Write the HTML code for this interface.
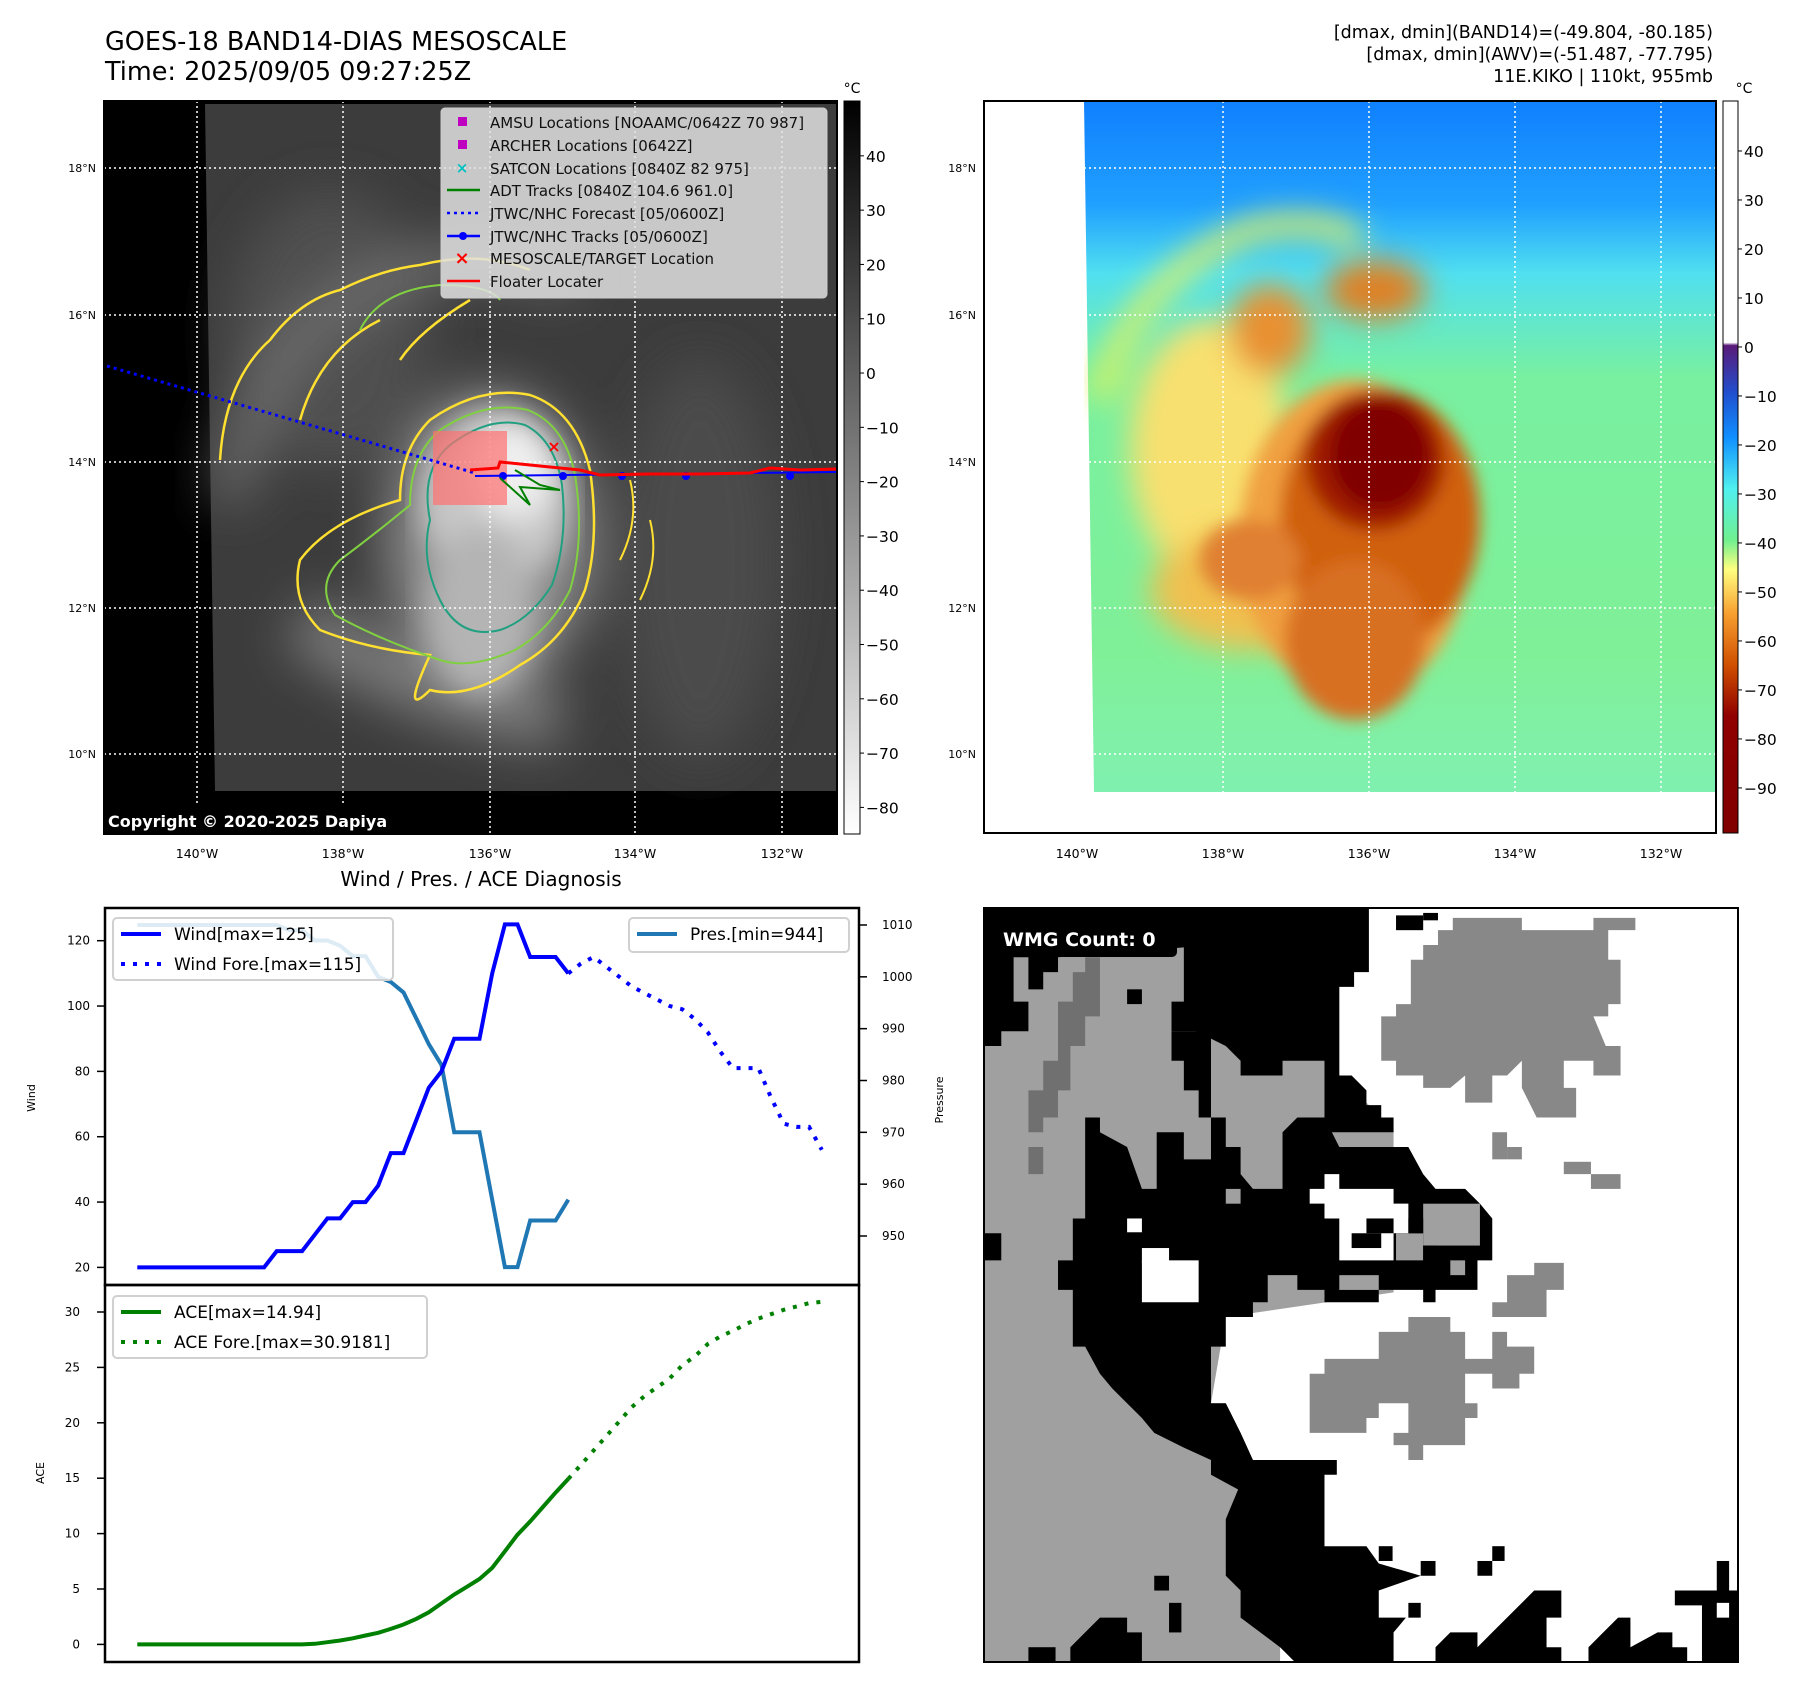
<!DOCTYPE html>
<html><head><meta charset="utf-8">
<style>
html,body{margin:0;padding:0;background:#fff;}
body{width:1797px;height:1690px;overflow:hidden;font-family:"DejaVu Sans","Liberation Sans",sans-serif;}
svg text{font-family:"DejaVu Sans","Liberation Sans",sans-serif;}
</style></head>
<body>
<svg id="root" width="1797" height="1690" viewBox="0 0 1797 1690" xmlns="http://www.w3.org/2000/svg">
<defs>
<linearGradient id="gcb" x1="0" y1="0" x2="0" y2="1"><stop offset="0" stop-color="#000"/><stop offset="1" stop-color="#fff"/></linearGradient>
<linearGradient id="ccb" x1="0" y1="0" x2="0" y2="1">
<stop offset="0" stop-color="#ffffff"/><stop offset="0.33" stop-color="#ffffff"/><stop offset="0.334" stop-color="#5a1a78"/>
<stop offset="0.40" stop-color="#2050d0"/><stop offset="0.46" stop-color="#1090ff"/><stop offset="0.53" stop-color="#50f0f0"/>
<stop offset="0.60" stop-color="#70f090"/><stop offset="0.64" stop-color="#ffff80"/><stop offset="0.70" stop-color="#f8a030"/>
<stop offset="0.77" stop-color="#d05000"/><stop offset="0.84" stop-color="#900000"/><stop offset="1" stop-color="#800000"/></linearGradient>
<linearGradient id="bgc" x1="0" y1="0" x2="0" y2="1">
<stop offset="0" stop-color="#1080ff"/><stop offset="0.15" stop-color="#20a0ff"/><stop offset="0.25" stop-color="#50e0f0"/>
<stop offset="0.4" stop-color="#78f0a0"/><stop offset="0.8" stop-color="#80f098"/><stop offset="1" stop-color="#80f0b0"/></linearGradient>
<filter id="bl8"><feGaussianBlur stdDeviation="8"/></filter>
<filter id="bl15"><feGaussianBlur stdDeviation="15"/></filter>
<filter id="bl25"><feGaussianBlur stdDeviation="25"/></filter>
<clipPath id="clipL"><rect x="104" y="101" width="733" height="733"/></clipPath>
<clipPath id="clipR"><rect x="1084" y="101" width="632" height="691"/></clipPath>
</defs>

<!-- ========== Titles ========== -->
<text x="105" y="50" font-size="25.5">GOES-18 BAND14-DIAS MESOSCALE</text>
<text x="105" y="80" font-size="25.5">Time: 2025/09/05 09:27:25Z</text>
<g font-size="17.5" text-anchor="end">
<text x="1713" y="38">[dmax, dmin](BAND14)=(-49.804, -80.185)</text>
<text x="1713" y="60">[dmax, dmin](AWV)=(-51.487, -77.795)</text>
<text x="1713" y="82">11E.KIKO | 110kt, 955mb</text>
</g>

<!-- ========== Left IR map ========== -->
<g>
<rect x="104" y="101" width="733" height="733" fill="#000"/>
<g clip-path="url(#clipL)">
<polygon points="205,104 836,104 836,791 215,791" fill="#3c3c3c"/>
<g filter="url(#bl25)">
<ellipse cx="330" cy="330" rx="100" ry="140" fill="#505050"/>
<ellipse cx="700" cy="560" rx="80" ry="200" fill="#4c4c4c"/>
<path d="M230,500 Q260,300 450,260 Q560,250 560,290" stroke="#707070" stroke-width="35" fill="none"/>
<path d="M300,620 Q420,700 560,720" stroke="#7a7a7a" stroke-width="60" fill="none"/>
<ellipse cx="490" cy="540" rx="105" ry="150" fill="#8a8a8a"/>
</g>
<g filter="url(#bl15)">
<ellipse cx="495" cy="500" rx="75" ry="90" fill="#c8c8c8"/>
<ellipse cx="480" cy="610" rx="55" ry="85" fill="#b4b4b4"/>
<ellipse cx="515" cy="470" rx="40" ry="50" fill="#eeeeee"/>
</g>
<path d="M430,420 Q480,385 530,395 Q575,410 590,470 Q600,540 585,590 Q565,640 520,665 Q470,700 430,690 Q400,720 430,655 Q370,650 320,630 Q290,600 300,560 Q330,520 400,500 Q400,450 430,420Z" fill="none" stroke="#ffe030" stroke-width="2.5"/>
<path d="M440,430 Q485,400 528,410 Q565,425 575,475 Q585,540 570,590 Q550,630 515,650 Q470,670 440,660 Q380,640 335,615 Q315,585 340,560 Q380,530 410,505 Q410,455 440,430Z" fill="none" stroke="#80d040" stroke-width="2"/>
<path d="M450,445 Q490,415 525,425 Q555,440 562,485 Q568,540 552,585 Q530,620 500,630 Q460,640 440,600 Q420,560 430,520 Q420,470 450,445Z" fill="none" stroke="#20a080" stroke-width="2"/>
<path d="M220,460 Q225,380 270,340 Q300,300 340,290 Q380,270 420,265 Q480,250 530,270 M300,420 Q320,350 380,320 M470,300 Q420,330 400,360" fill="none" stroke="#ffe030" stroke-width="2.5"/>
<path d="M360,330 Q380,290 440,285 Q490,285 500,300" fill="none" stroke="#80d040" stroke-width="2"/>
<path d="M620,560 Q640,520 630,480 M650,520 Q660,560 640,600" fill="none" stroke="#ffe030" stroke-width="2"/>
</g>
<g stroke="#fff" stroke-width="1.5" stroke-dasharray="2,3">
<line x1="104" y1="168" x2="837" y2="168"/><line x1="104" y1="315" x2="837" y2="315"/><line x1="104" y1="462" x2="837" y2="462"/><line x1="104" y1="608" x2="837" y2="608"/><line x1="104" y1="754" x2="837" y2="754"/>
<line x1="197" y1="101" x2="197" y2="834"/><line x1="343" y1="101" x2="343" y2="834"/><line x1="490" y1="101" x2="490" y2="834"/><line x1="635" y1="101" x2="635" y2="834"/><line x1="782" y1="101" x2="782" y2="834"/>
</g>
<rect x="433" y="431" width="74" height="74" fill="#ff7070" opacity="0.7"/>
<line x1="107" y1="366" x2="475" y2="473" stroke="#0000ff" stroke-width="3" stroke-dasharray="3,4"/>
<polyline points="475,476 836,472" stroke="#0000ff" stroke-width="2" fill="none"/>
<g fill="#0000ff"><circle cx="503" cy="476" r="4"/><circle cx="563" cy="476" r="4"/><circle cx="622" cy="476" r="4"/><circle cx="686" cy="476" r="4"/><circle cx="790" cy="476" r="4"/></g>
<polyline points="470,470 498,468 500,462 540,466 580,470 600,475 650,474 700,474 750,473 770,468 800,470 836,469" stroke="#ff0000" stroke-width="3" fill="none"/>
<polyline points="500,478 530,505 520,487 560,490 540,485 515,470" stroke="#008000" stroke-width="2" fill="none"/>
<text x="554" y="452" font-size="16" fill="#ff0000" text-anchor="middle" font-weight="bold">×</text>
<rect x="104" y="806" width="318" height="28" fill="#000"/>
<text x="108" y="827" font-size="16" font-weight="bold" fill="#fff">Copyright © 2020-2025 Dapiya</text>
<rect x="104" y="101" width="733" height="733" fill="none" stroke="#000" stroke-width="2"/>
<g>
<rect x="441" y="108" width="386" height="190" rx="4" fill="#e0e0e0" fill-opacity="0.85" stroke="#ccc"/>
<g font-size="15" fill="#111">
<rect x="458" y="117" width="9" height="9" fill="#c000c0"/><text x="490" y="128">AMSU Locations [NOAAMC/0642Z 70 987]</text>
<rect x="458" y="140" width="9" height="9" fill="#c000c0"/><text x="490" y="151">ARCHER Locations [0642Z]</text>
<text x="462" y="173" fill="#00c0c0" text-anchor="middle" font-weight="bold">×</text><text x="490" y="174">SATCON Locations [0840Z 82 975]</text>
<line x1="447" y1="190" x2="480" y2="190" stroke="#008000" stroke-width="2.5"/><text x="490" y="196">ADT Tracks [0840Z 104.6 961.0]</text>
<line x1="447" y1="213" x2="480" y2="213" stroke="#0000ff" stroke-width="2.5" stroke-dasharray="3,4"/><text x="490" y="219">JTWC/NHC Forecast [05/0600Z]</text>
<line x1="447" y1="236" x2="480" y2="236" stroke="#0000ff" stroke-width="2.5"/><circle cx="463" cy="236" r="4" fill="#0000ff"/><text x="490" y="242">JTWC/NHC Tracks [05/0600Z]</text>
<text x="462" y="264" fill="#ff0000" text-anchor="middle" font-weight="bold" font-size="18">×</text><text x="490" y="264">MESOSCALE/TARGET Location</text>
<line x1="447" y1="281" x2="480" y2="281" stroke="#ff0000" stroke-width="2.5"/><text x="490" y="287">Floater Locater</text>
</g></g>
</g>
<g font-size="11" text-anchor="end">
<text x="96" y="172">18°N</text><text x="96" y="319">16°N</text><text x="96" y="466">14°N</text><text x="96" y="612">12°N</text><text x="96" y="758">10°N</text>
</g>
<g font-size="12.5" text-anchor="middle">
<text x="197" y="858">140°W</text><text x="343" y="858">138°W</text><text x="490" y="858">136°W</text><text x="635" y="858">134°W</text><text x="782" y="858">132°W</text>
</g>
<g>
<rect x="844" y="101" width="16" height="733" fill="url(#gcb)" stroke="#000" stroke-width="1"/>
<text x="852" y="93" font-size="14" text-anchor="middle">°C</text>
<g font-size="15.5" id="gcbl"></g>
</g>

<!-- ========== Right color map ========== -->
<g>
<rect x="984" y="101" width="732" height="732" fill="#fff"/>
<g clip-path="url(#clipR)">
<polygon points="1084,101 1716,101 1716,792 1094,792" fill="url(#bgc)"/>
<g filter="url(#bl15)">
<path d="M1100,400 Q1130,280 1250,230 Q1320,215 1360,240" stroke="#e0f060" stroke-width="22" fill="none"/>
<ellipse cx="1210" cy="450" rx="80" ry="130" fill="#f8e070"/>
<ellipse cx="1250" cy="590" rx="100" ry="60" fill="#f0c050"/>
<ellipse cx="1375" cy="290" rx="50" ry="30" fill="#e08020"/>
<ellipse cx="1270" cy="330" rx="40" ry="45" fill="#e89030"/>
</g>
<g filter="url(#bl8)">
<ellipse cx="1355" cy="540" rx="115" ry="160" fill="#f0a040"/>
<ellipse cx="1380" cy="520" rx="100" ry="130" fill="#d06010"/>
<ellipse cx="1355" cy="640" rx="70" ry="80" fill="#d87020"/>
<ellipse cx="1250" cy="560" rx="50" ry="40" fill="#e08030"/>
<ellipse cx="1375" cy="460" rx="70" ry="70" fill="#a01a00"/>
<ellipse cx="1380" cy="455" rx="50" ry="55" fill="#800000"/>
</g>
</g>
<g stroke="#fff" stroke-width="1.5" stroke-dasharray="2,3">
<line x1="1084" y1="168" x2="1716" y2="168"/><line x1="1084" y1="315" x2="1716" y2="315"/><line x1="1084" y1="462" x2="1716" y2="462"/><line x1="1084" y1="608" x2="1716" y2="608"/><line x1="1084" y1="754" x2="1716" y2="754"/>
<line x1="1077" y1="101" x2="1077" y2="792"/><line x1="1223" y1="101" x2="1223" y2="792"/><line x1="1369" y1="101" x2="1369" y2="792"/><line x1="1515" y1="101" x2="1515" y2="792"/><line x1="1661" y1="101" x2="1661" y2="792"/>
</g>
<rect x="984" y="101" width="732" height="732" fill="none" stroke="#000" stroke-width="2"/>
</g>
<g font-size="11" text-anchor="end">
<text x="976" y="172">18°N</text><text x="976" y="319">16°N</text><text x="976" y="466">14°N</text><text x="976" y="612">12°N</text><text x="976" y="758">10°N</text>
</g>
<g font-size="12.5" text-anchor="middle">
<text x="1077" y="858">140°W</text><text x="1223" y="858">138°W</text><text x="1369" y="858">136°W</text><text x="1515" y="858">134°W</text><text x="1661" y="858">132°W</text>
</g>
<g>
<rect x="1723" y="101" width="15" height="732" fill="url(#ccb)" stroke="#000" stroke-width="1"/>
<text x="1744" y="93" font-size="14" text-anchor="middle">°C</text>
<g font-size="15.5" id="ccbl"></g>
</g>

<!-- ========== Wind/Pres/ACE chart ========== -->
<text x="481" y="886" font-size="20" text-anchor="middle">Wind / Pres. / ACE Diagnosis</text>
<g id="chart"></g>

<!-- ========== WMG panel ========== -->
<g>
<svg x="984" y="908" width="754" height="754" viewBox="0 0 1528 1530" preserveAspectRatio="none">
<rect x="0" y="0" width="1528" height="1530" fill="#fff"/>
<polygon fill="#a0a0a0" points="0,0 720,0 720,340 830,450 830,780 490,830 460,1005 490,1005 520,1065 545,1120 600,1150 600,1530 0,1530"/>
<polygon fill="#707070" points="205,100 235,100 235,220 205,220 205,280 175,280 175,370 150,370 150,425 120,425 120,455 90,455 90,370 120,370 120,310 150,310 150,190 180,190 180,130 205,130"/>
<rect x="90" y="485" width="30" height="55" fill="#707070"/>
<g fill="#000">
<polygon points="0,0 780,0 780,130 750,130 750,160 720,160 720,340 690,340 690,310 605,310 605,340 520,340 520,310 490,280 430,250 380,250 380,190 405,190 405,80 150,100 150,130 120,130 120,165 90,165 90,100 60,100 60,190 90,190 90,250 35,250 35,280 0,280"/>
<rect x="290" y="165" width="30" height="30"/>
<polygon points="380,250 460,250 460,425 435,425 435,370 405,370 405,310 380,310"/>
<polygon points="690,340 745,340 775,370 775,400 805,400 805,425 830,425 830,455 690,455"/>
<polygon points="205,425 235,425 235,455 290,485 320,570 350,570 350,455 405,455 405,510 460,510 460,425 490,425 490,485 520,485 520,540 545,570 605,570 605,455 635,425 690,425 720,485 860,485 890,540 915,570 975,570 1005,600 1030,630 1030,715 1000,715 1000,775 915,775 915,800 890,800 890,775 800,775 800,800 690,800 690,775 635,775 635,745 575,745 575,800 545,800 545,830 490,830 490,890 460,890 460,1005 490,1005 520,1065 545,1120 715,1120 715,1150 690,1150 690,1295 775,1295 800,1330 885,1355 800,1385 800,1440 855,1440 830,1470 830,1530 630,1530 600,1500 520,1440 520,1385 490,1355 490,1240 515,1180 460,1150 460,1120 405,1095 345,1065 320,1035 290,1005 260,975 235,945 205,890 180,890 180,775 150,775 150,715 180,715 180,630 205,630"/>
<rect x="0" y="660" width="35" height="55"/>
<rect x="345" y="1355" width="30" height="30"/><rect x="375" y="1410" width="25" height="60"/>
<polygon points="175,1500 205,1470 235,1440 290,1440 290,1470 320,1470 320,1530 175,1530"/>
<rect x="90" y="1500" width="55" height="30"/>
<polygon points="915,1500 945,1470 1000,1470 1000,1500 1030,1470 1060,1440 1090,1410 1115,1385 1170,1385 1170,1440 1140,1440 1140,1500 1170,1500 1170,1530 915,1530"/>
<polygon points="1225,1500 1255,1470 1285,1440 1310,1440 1310,1500 1365,1470 1395,1470 1395,1500 1425,1500 1425,1530 1225,1530"/>
<polygon points="1400,1385 1528,1385 1528,1530 1455,1530 1455,1415 1400,1415"/>
<rect x="1485" y="1325" width="25" height="60"/>
<rect x="1030" y="1295" width="25" height="30"/><rect x="1000" y="1325" width="30" height="30"/><rect x="885" y="1325" width="30" height="30"/><rect x="860" y="1410" width="25" height="30"/><rect x="800" y="1295" width="28" height="30"/>
</g>
<g fill="#fff">
<rect x="320" y="690" width="55" height="30"/><rect x="320" y="715" width="115" height="85"/>
<rect x="290" y="630" width="30" height="28"/>
<polygon points="690,540 720,540 720,570 830,570 830,600 860,600 860,660 830,660 830,715 720,715 720,630 690,630 690,600 660,600 660,570 690,570"/>
<rect x="1485" y="1410" width="25" height="30"/>
</g>
<g fill="#a0a0a0">
<rect x="835" y="660" width="55" height="55"/><rect x="890" y="600" width="115" height="85"/><rect x="720" y="745" width="80" height="30"/><rect x="945" y="715" width="30" height="30"/><rect x="490" y="570" width="30" height="30"/>
</g>
<g fill="#000"><rect x="775" y="630" width="55" height="30"/><rect x="745" y="660" width="60" height="30"/><rect x="890" y="685" width="30" height="30"/><rect x="860" y="630" width="30" height="30"/></g>
<g fill="#888">
<polygon points="950,20 1090,20 1090,45 1235,45 1235,20 1320,20 1320,45 1265,45 1265,105 1290,105 1290,195 1265,195 1265,220 1235,220 1260,280 1290,280 1290,340 1235,340 1235,310 1175,310 1175,365 1200,365 1200,425 1120,425 1090,365 1090,310 1060,340 1030,340 1030,395 975,395 975,340 945,365 890,365 890,340 835,340 835,310 805,310 805,220 835,220 835,195 865,195 865,105 890,105 890,75 920,75 920,45 950,45"/>
<polygon points="860,830 945,830 945,860 975,860 975,915 1030,915 1030,860 1060,860 1060,890 1115,890 1115,945 1085,945 1085,975 1030,975 1030,945 975,945 975,1005 1000,1005 1000,1035 975,1035 975,1090 890,1090 890,1120 860,1120 860,1090 830,1090 830,1065 860,1065 860,1005 800,1005 800,1035 775,1035 775,1065 660,1065 660,945 690,945 690,915 800,915 800,860 860,860"/>
<polygon points="1115,720 1175,720 1175,775 1140,775 1140,830 1030,830 1030,800 1060,800 1060,745 1115,745"/>
<rect x="1030" y="455" width="30" height="55"/><rect x="1060" y="485" width="30" height="25"/><rect x="1175" y="515" width="55" height="25"/><rect x="1230" y="540" width="60" height="30"/>
</g>
<g fill="#000"><rect x="835" y="15" width="55" height="30"/><rect x="890" y="10" width="30" height="15"/></g>
</svg>
<rect x="989" y="921" width="188" height="36" rx="5" fill="#000"/>
<text x="1003" y="946" font-size="19" font-weight="bold" fill="#fff">WMG Count: 0</text>
<rect x="984" y="908" width="754" height="754" fill="none" stroke="#000" stroke-width="2"/>
</g>
</svg>

<script>
// ---- Chart data ----
const windObs = [20,20,20,20,20,20,20,20,20,20,20,25,25,25,30,35,35,40,40,45,55,55,65,75,80,90,90,90,110,125,125,115,115,115,110];
const windFore = [110,113,115,112,109,106,104,102,100,99,96,92,86,81,81,81,72,64,63,63,56];
const presObs = [1010,1010,1010,1010,1010,1010,1010,1010,1010,1010,1010,1010,1009,1009,1007,1007,1006,1004,1004,1000,999,997,992,987,983,970,970,970,957,944,944,953,953,953,957];
const aceObs = [0,0,0,0,0,0,0,0,0,0,0,0,0,0,0.05,0.2,0.35,0.55,0.8,1.05,1.4,1.8,2.3,2.9,3.7,4.5,5.2,5.9,6.9,8.4,9.9,11.1,12.4,13.7,14.94];
const aceFore = [14.94,16.2,17.5,18.8,20.1,21.4,22.4,23.2,24.0,25.2,26.0,27.1,27.8,28.3,28.9,29.4,29.8,30.2,30.5,30.8,30.92];
const windTicks = [20,40,60,80,100,120];
const presTicks = [950,960,970,980,990,1000,1010];
const aceTicks = [0,5,10,15,20,25,30];
const grayCbTicks = [40,30,20,10,0,-10,-20,-30,-40,-50,-60,-70,-80];
const colorCbTicks = [40,30,20,10,0,-10,-20,-30,-40,-50,-60,-70,-80,-90];

const NS = 'http://www.w3.org/2000/svg';
function mk(tag, attrs, parent){const e=document.createElementNS(NS,tag);for(const k in attrs)e.setAttribute(k,attrs[k]);parent.appendChild(e);return e;}
const xS = i => 137.3 + i*12.675;
const yW = v => 1267.4 - (v-20)*(326.7/100);
const yP = v => 1236 - (v-950)*(311/60);
const yA = v => 1644.4 - v*(332.4/30);
const chart = document.getElementById('chart');
const foreStart = windObs.length-1;

let f1 = mk('rect',{x:105,y:908,width:754,height:377,fill:'none',stroke:'#000','stroke-width':2.5},chart);


let f2 = mk('rect',{x:105,y:1285,width:754,height:377,fill:'none',stroke:'#000','stroke-width':2.5},chart);



windTicks.forEach(v=>{const y=yW(v);mk('line',{x1:97,y1:y,x2:105,y2:y,stroke:'#000','stroke-width':1.5},chart);
 const t=mk('text',{x:90,y:y+4,'font-size':12,'text-anchor':'end'},chart);t.textContent=v;
 
 });
presTicks.forEach(v=>{const y=yP(v);mk('line',{x1:859,y1:y,x2:867,y2:y,stroke:'#000','stroke-width':1.5},chart);
 const t=mk('text',{x:882,y:y+4,'font-size':12},chart);t.textContent=v;
 
 });
aceTicks.forEach(v=>{const y=yA(v);mk('line',{x1:97,y1:y,x2:105,y2:y,stroke:'#000','stroke-width':1.5},chart);
 const t=mk('text',{x:80,y:y+4,'font-size':12,'text-anchor':'end'},chart);t.textContent=v;
 
 });
let lw=mk('text',{x:0,y:0,'font-size':11,'text-anchor':'middle',transform:'translate(35,1098) rotate(-90)'},chart);lw.textContent='Wind';


let la=mk('text',{x:0,y:0,'font-size':11,'text-anchor':'middle',transform:'translate(44,1473) rotate(-90)'},chart);la.textContent='ACE';


let lp=mk('text',{x:0,y:0,'font-size':11,'text-anchor':'middle',transform:'translate(943,1100) rotate(-90)'},chart);lp.textContent='Pressure';



function pts(arr,off,ys){return arr.map((v,i)=>xS(i+off).toFixed(1)+','+ys(v).toFixed(1)).join(' ');}
let pl;
pl=mk('polyline',{points:pts(presObs,0,yP),fill:'none',stroke:'#1f77b4','stroke-width':4},chart);


pl=mk('polyline',{points:pts(windObs,0,yW),fill:'none',stroke:'#0000ff','stroke-width':4},chart);


pl=mk('polyline',{points:pts(windFore,foreStart,yW),fill:'none',stroke:'#0000ff','stroke-width':4,'stroke-dasharray':'4,8'},chart);


pl=mk('polyline',{points:pts(aceObs,0,yA),fill:'none',stroke:'#008000','stroke-width':4},chart);


pl=mk('polyline',{points:pts(aceFore,foreStart,yA),fill:'none',stroke:'#008000','stroke-width':4,'stroke-dasharray':'4,8'},chart);



function legend(x,y,w,h,items,name){
 const g=mk('g',{},chart);
 
 
 mk('rect',{x:x,y:y,width:w,height:h,rx:4,fill:'#fff','fill-opacity':0.85,stroke:'#d0d0d0','stroke-width':2},g);
 items.forEach((it,k)=>{const cy=y+16+k*30;
  const a={x1:x+8,y1:cy,x2:x+48,y2:cy,stroke:it.c,'stroke-width':4};if(it.d)a['stroke-dasharray']='4,8';mk('line',a,g);
  const t=mk('text',{x:x+61,y:cy+6,'font-size':17},g);t.textContent=it.t;});
}
legend(113,918,280,62,[{c:'#0000ff',t:'Wind[max=125]'},{c:'#0000ff',t:'Wind Fore.[max=115]',d:1}],'wind-legend');
legend(629,918,220,34,[{c:'#1f77b4',t:'Pres.[min=944]'}],'pressure-legend');
legend(113,1296,314,62,[{c:'#008000',t:'ACE[max=14.94]'},{c:'#008000',t:'ACE Fore.[max=30.9181]',d:1}],'ace-legend');

const g1=document.getElementById('gcbl');
grayCbTicks.forEach(v=>{const y=101+(50.1-v)*(733/135);mk('line',{x1:860,y1:y,x2:864,y2:y,stroke:'#000'},g1);
 const t=mk('text',{x:866,y:y+6},g1);t.textContent=(v<0?'\u2212'+(-v):v);
 
 });
const g2=document.getElementById('ccbl');
colorCbTicks.forEach(v=>{const y=101+(50.2-v)*(732/149.4);mk('line',{x1:1738,y1:y,x2:1742,y2:y,stroke:'#000'},g2);
 const t=mk('text',{x:1744,y:y+6},g2);t.textContent=(v<0?'\u2212'+(-v):v);
 
 });
</script>
</body></html>
